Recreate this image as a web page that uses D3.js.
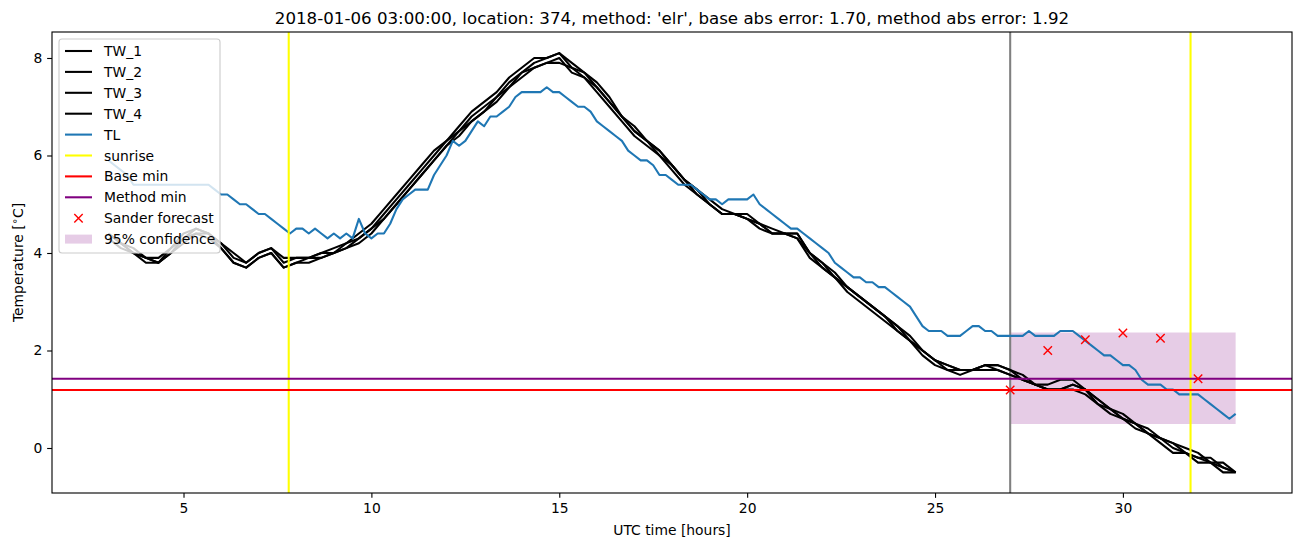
<!DOCTYPE html>
<html><head><meta charset="utf-8">
<script src="https://cdn.jsdelivr.net/npm/d3@7"></script>
<style>body{margin:0;background:#fff}svg{display:block;font-family:"DejaVu Sans",sans-serif}</style>
</head><body><svg id="c" width="1302" height="547"></svg>
<script>
// ---- data ----
const titleText = "2018-01-06 03:00:00, location: 374, method: 'elr', base abs error: 1.70, method abs error: 1.92";
const xTicks = [5, 10, 15, 20, 25, 30];
const yTicks = [0, 2, 4, 6, 8];
const seriesNames = ["TW_1", "TW_2", "TW_3", "TW_4"];
// TL sampled every 10 minutes from 03:00 to 33:00
const tlHours = d3.range(181).map(i => 3 + i / 6);
const tl = [
 5.9,5.8,5.7,5.6,5.4,5.4, 5.4,5.4,5.4,5.4,5.4,5.4, 5.4,5.4,5.4,5.4,5.4,5.3,
 5.2,5.2,5.1,5.0,5.0,4.9, 4.8,4.8,4.7,4.6,4.5,4.4, 4.5,4.5,4.4,4.5,4.4,4.3,
 4.4,4.3,4.4,4.3,4.7,4.4, 4.3,4.4,4.4,4.6,4.9,5.1, 5.2,5.3,5.3,5.3,5.6,5.8,
 6.0,6.3,6.2,6.3,6.5,6.7, 6.6,6.8,6.8,6.9,7.0,7.2, 7.3,7.3,7.3,7.3,7.4,7.3,
 7.3,7.2,7.1,7.0,7.0,6.9, 6.7,6.6,6.5,6.4,6.3,6.1, 6.0,5.9,5.9,5.8,5.6,5.6,
 5.5,5.4,5.4,5.4,5.3,5.2, 5.1,5.1,5.0,5.1,5.1,5.1, 5.1,5.2,5.0,4.9,4.8,4.7,
 4.6,4.5,4.5,4.4,4.3,4.2, 4.1,4.0,3.8,3.7,3.6,3.5, 3.5,3.4,3.4,3.3,3.3,3.2,
 3.1,3.0,2.9,2.7,2.5,2.4, 2.4,2.4,2.3,2.3,2.3,2.4, 2.5,2.5,2.4,2.4,2.3,2.3,
 2.3,2.3,2.3,2.4,2.3,2.3, 2.3,2.3,2.4,2.4,2.4,2.3, 2.2,2.1,2.0,1.9,1.9,1.8,
 1.7,1.7,1.6,1.4,1.3,1.3, 1.3,1.2,1.2,1.1,1.1,1.1, 1.1,1.0,0.9,0.8,0.7,0.6,
 0.7
];
// TW sampled every 20 minutes from 03:00 to 33:00
const twHours = d3.range(91).map(i => 3 + i / 3);
const tw1 = [4.4,4.2,4.0, 3.9,3.8,4.1, 4.3,4.5,4.4, 4.2,3.9,3.8, 4.0,4.1,3.8, 3.9,3.9,4.0, 4.0,4.2,4.3, 4.5,4.8,5.1, 5.4,5.7,6.0, 6.3,6.5,6.8, 7.0,7.2,7.5, 7.7,7.9,8.0, 8.1,7.8,7.7, 7.4,7.1,6.8, 6.5,6.3,6.1, 5.8,5.5,5.3, 5.0,4.8,4.8, 4.7,4.6,4.4, 4.4,4.4,4.0, 3.8,3.5,3.3, 3.1,2.9,2.7, 2.5,2.2,2.0, 1.8,1.7,1.6, 1.6,1.7,1.7, 1.6,1.4,1.3, 1.2,1.2,1.3, 1.2,1.0,0.8, 0.6,0.5,0.3, 0.2,0.0,-0.1, -0.2,-0.3,-0.4, -0.5];
const tw2 = [4.4,4.2,4.1, 3.9,3.8,4.0, 4.3,4.4,4.4, 4.1,3.8,3.7, 3.9,4.0,3.7, 3.8,3.9,3.9, 4.0,4.1,4.3, 4.5,4.7,5.0, 5.3,5.6,5.9, 6.2,6.5,6.7, 6.9,7.2,7.4, 7.7,7.8,7.9, 7.9,7.8,7.6, 7.4,7.1,6.8, 6.5,6.3,6.0, 5.8,5.5,5.2, 5.0,4.8,4.8, 4.7,4.6,4.4, 4.4,4.3,4.0, 3.7,3.5,3.3, 3.1,2.9,2.7, 2.4,2.2,2.0, 1.8,1.6,1.6, 1.6,1.7,1.6, 1.5,1.4,1.3, 1.2,1.2,1.3, 1.2,0.9,0.8, 0.6,0.5,0.3, 0.2,0.1,-0.1, -0.2,-0.2,-0.4, -0.5];
const tw3 = [4.3,4.1,4.0, 3.8,3.8,4.0, 4.2,4.4,4.3, 4.1,3.8,3.7, 3.9,4.0,3.7, 3.8,3.8,3.9, 4.0,4.1,4.2, 4.4,4.7,5.0, 5.3,5.6,5.9, 6.2,6.4,6.7, 6.9,7.1,7.4, 7.6,7.8,7.9, 8.0,7.7,7.6, 7.3,7.0,6.7, 6.4,6.2,6.0, 5.7,5.4,5.2, 5.0,4.8,4.8, 4.7,4.5,4.4, 4.4,4.3,3.9, 3.7,3.5,3.2, 3.0,2.8,2.6, 2.4,2.2,1.9, 1.7,1.6,1.5, 1.6,1.6,1.6, 1.5,1.4,1.3, 1.2,1.2,1.2, 1.1,0.9,0.7, 0.6,0.4,0.3, 0.1,-0.1,-0.1, -0.3,-0.3,-0.5, -0.5];
const tw4 = [4.4,4.2,4.0, 3.9,3.9,4.1, 4.4,4.5,4.4, 4.2,4.0,3.8, 4.0,4.1,3.9, 3.9,3.9,4.0, 4.1,4.2,4.4, 4.6,4.9,5.2, 5.5,5.8,6.1, 6.3,6.6,6.9, 7.1,7.3,7.6, 7.8,8.0,8.0, 8.1,7.9,7.7, 7.5,7.2,6.8, 6.6,6.3,6.1, 5.8,5.5,5.3, 5.1,4.9,4.8, 4.8,4.6,4.5, 4.4,4.4,4.0, 3.8,3.6,3.3, 3.1,2.9,2.7, 2.5,2.3,2.0, 1.8,1.7,1.6, 1.6,1.7,1.7, 1.6,1.5,1.3, 1.3,1.4,1.4, 1.2,1.0,0.8, 0.7,0.5,0.4, 0.2,0.1,0.0, -0.1,-0.3,-0.3, -0.5];
const sunriseHours = [7.8, 31.8];
const forecastTime = 27;
const baseMin = 1.19;
const methodMin = 1.42;
const forecastHours = [27, 28, 29, 30, 31, 32];
const forecastValues = [1.19, 2.0, 2.22, 2.36, 2.25, 1.42];
const bandHours = [27, 33];
const bandLow = [0.49, 0.49];
const bandHigh = [2.37, 2.37];
const legendLabels = ["TW_1","TW_2","TW_3","TW_4","TL","sunrise","Base min","Method min","Sander forecast","95% confidence"];

// ---- layout ----
const svg = d3.select("#c");
const L = 52, R = 1292, T = 32, B = 493;
const x = d3.scaleLinear().domain([1.5, 34.5]).range([L, R]);
const y = d3.scaleLinear().domain([-0.923, 8.533]).range([B, T]);
const FS = 13.89;

const clip = svg.append("clipPath").attr("id","clp").append("rect")
  .attr("x", L).attr("y", T).attr("width", R - L).attr("height", B - T);
const g = svg.append("g").attr("clip-path", "url(#clp)");

// confidence band
const band = bandHours.map((h, i) => ({h, lo: bandLow[i], hi: bandHigh[i]}));
g.append("path").datum(band)
  .attr("d", d3.area().x(d => x(d.h)).y0(d => y(d.lo)).y1(d => y(d.hi)))
  .attr("fill", "purple").attr("fill-opacity", 0.2);

// forecast-time line
g.append("line").attr("x1", x(forecastTime)).attr("x2", x(forecastTime))
  .attr("y1", T).attr("y2", B).attr("stroke", "gray").attr("stroke-width", 2.08);

const line = d3.line().x(d => x(d[0])).y(d => y(d[1]));
[tw1, tw2, tw3, tw4].forEach(s => {
  g.append("path").datum(twHours.map((h, i) => [h, s[i]]))
    .attr("d", line).attr("fill", "none").attr("stroke", "black")
    .attr("stroke-width", 2.08).attr("stroke-linejoin", "round");
});
g.append("path").datum(tlHours.map((h, i) => [h, tl[i]]))
  .attr("d", line).attr("fill", "none").attr("stroke", "#1f77b4")
  .attr("stroke-width", 2.08).attr("stroke-linejoin", "round");

sunriseHours.forEach(h => {
  g.append("line").attr("x1", x(h)).attr("x2", x(h)).attr("y1", T).attr("y2", B)
    .attr("stroke", "yellow").attr("stroke-width", 2.08);
});
g.append("line").attr("x1", L).attr("x2", R).attr("y1", y(baseMin)).attr("y2", y(baseMin))
  .attr("stroke", "red").attr("stroke-width", 2.08);
g.append("line").attr("x1", L).attr("x2", R).attr("y1", y(methodMin)).attr("y2", y(methodMin))
  .attr("stroke", "purple").attr("stroke-width", 2.08);

function xMark(sel, cx, cy) {
  const r = 4.2;
  sel.append("path").attr("d", `M${cx-r},${cy-r}L${cx+r},${cy+r}M${cx-r},${cy+r}L${cx+r},${cy-r}`)
    .attr("stroke", "red").attr("stroke-width", 1.4).attr("fill", "none");
}
forecastHours.forEach((h, i) => xMark(g, x(h), y(forecastValues[i])));

// axes frame
svg.append("rect").attr("x", L).attr("y", T).attr("width", R - L).attr("height", B - T)
  .attr("fill", "none").attr("stroke", "black").attr("stroke-width", 1.11);

const xAxis = svg.append("g").attr("transform", `translate(0,${B})`)
  .call(d3.axisBottom(x).tickValues(xTicks).tickSize(4.86).tickPadding(4.86).tickFormat(d3.format("d")));
const yAxis = svg.append("g").attr("transform", `translate(${L},0)`)
  .call(d3.axisLeft(y).tickValues(yTicks).tickSize(4.86).tickPadding(4.86).tickFormat(d3.format("d")));
[xAxis, yAxis].forEach(a => {
  a.select(".domain").remove();
  a.selectAll(".tick line").attr("stroke", "black").attr("stroke-width", 1.11);
  a.selectAll(".tick text").attr("font-size", FS).attr("fill", "black").attr("font-family", "DejaVu Sans");
});

// titles
svg.append("text").attr("x", (L + R) / 2).attr("y", 23.7).attr("text-anchor", "middle")
  .attr("font-size", 16.67).text(titleText);
svg.append("text").attr("x", (L + R) / 2).attr("y", 534.5).attr("text-anchor", "middle")
  .attr("font-size", FS).text("UTC time [hours]");
const yl = svg.append("text").attr("transform", `translate(23,${(T + B) / 2}) rotate(-90)`)
  .attr("text-anchor", "middle").attr("font-size", FS);
yl.append("tspan").text("Temperature [");
yl.append("tspan").attr("dy", -5).attr("font-size", 10).text("\u2218");
yl.append("tspan").attr("dy", 5).text("C]");

// legend
const lg = svg.append("g");
lg.append("rect").attr("x", 59).attr("y", 39).attr("width", 161).attr("height", 214)
  .attr("rx", 3).attr("fill", "white").attr("fill-opacity", 0.8)
  .attr("stroke", "#cccccc").attr("stroke-width", 1.11);
const legendColors = ["black","black","black","black","#1f77b4","yellow","red","purple"];
legendLabels.forEach((lab, i) => {
  const cy = 51 + 20.9 * i;
  if (i < 8) {
    lg.append("line").attr("x1", 65).attr("x2", 92).attr("y1", cy).attr("y2", cy)
      .attr("stroke", legendColors[i]).attr("stroke-width", 2.08);
  } else if (i === 8) {
    xMark(lg, 78.5, cy);
  } else {
    lg.append("rect").attr("x", 65).attr("y", cy - 4.5).attr("width", 27).attr("height", 9)
      .attr("fill", "purple").attr("fill-opacity", 0.2);
  }
  lg.append("text").attr("x", 104).attr("y", cy + 5).attr("font-size", FS).text(lab);
});
</script></body></html>
